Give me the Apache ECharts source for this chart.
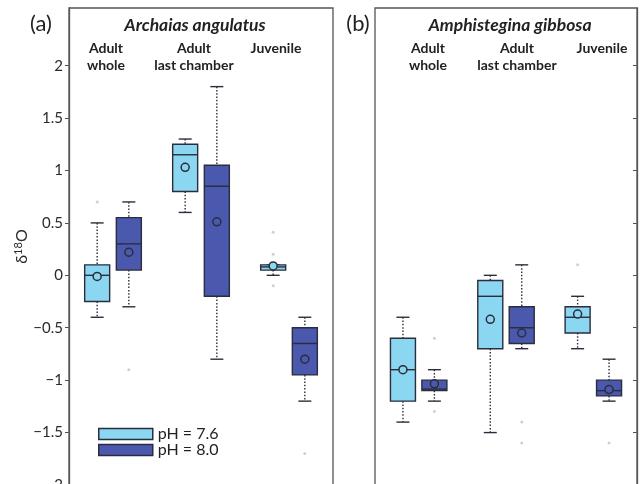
<!DOCTYPE html>
<html>
<head>
<meta charset="utf-8">
<script src="https://cdn.jsdelivr.net/npm/echarts@6/dist/echarts.min.js"></script>
<style>
  html, body { margin: 0; padding: 0; background: #fff; }
  #chart { width: 640px; height: 484px; }
</style>
</head>
<body>
<div id="chart"></div>
<script>
// groups along the x axis (same in both panels)
const groups = ['Adult\nwhole', 'Adult\nlast chamber', 'Juvenile'];
const yTicks = [-2, -1.5, -1, -0.5, 0, 0.5, 1, 1.5, 2];

// five numbers per box: [lower whisker, Q1, median, Q3, upper whisker]
// (a) Archaias angulatus
const archaias76 = [[-0.40, -0.25, 0.00, 0.10, 0.50], [0.60, 0.80, 1.15, 1.25, 1.30], [0.00, 0.05, 0.08, 0.10, 0.10]];
const archaias80 = [[-0.30, 0.05, 0.30, 0.55, 0.70], [-0.80, -0.20, 0.85, 1.05, 1.80], [-1.20, -0.95, -0.65, -0.50, -0.40]];
const archaiasMean76 = [-0.01, 1.03, 0.09];
const archaiasMean80 = [0.22, 0.51, -0.80];
const archaiasOut76 = [[0, 0.70], [2, 0.41], [2, 0.20], [2, -0.10]];
const archaiasOut80 = [[0, -0.90], [2, -1.70]];

// (b) Amphistegina gibbosa
const amphi76 = [[-1.40, -1.20, -0.90, -0.60, -0.40], [-1.50, -0.70, -0.20, -0.05, 0.00], [-0.70, -0.55, -0.40, -0.30, -0.20]];
const amphi80 = [[-1.20, -1.10, -1.085, -1.00, -0.90], [-0.70, -0.65, -0.50, -0.30, 0.10], [-1.20, -1.15, -1.10, -1.00, -0.80]];
const amphiMean76 = [-0.90, -0.42, -0.37];
const amphiMean80 = [-1.035, -0.55, -1.09];
const amphiOut76 = [[2, 0.10]];
const amphiOut80 = [[0, -0.60], [0, -1.30], [1, -1.40], [1, -1.60], [2, -1.60]];

const LIGHT = '#8bd6f0';
const DARK = '#4a59ae';
const INK = '#2b2d3c';
const FRAME = '#555';
const FONT = 'Lato, "Open Sans", sans-serif';
const SHIFT = 0.18; // side-by-side offset inside a group

let chart = echarts.init(document.getElementById('chart'));

function boxData(stats, means, side) {
    return stats.map((s, i) => [i + 1 + side * SHIFT].concat(s, [means[i]]));
}
function outData(list, side) {
    return list.map(p => [p[0] + 1 + side * SHIFT, p[1]]);
}

// whiskers dotted, caps solid, box + median + mean circle
function renderBox(params, api) {
    let x = api.value(0);
    let lo = api.coord([x, api.value(1)]),
        q1 = api.coord([x, api.value(2)]),
        md = api.coord([x, api.value(3)]),
        q3 = api.coord([x, api.value(4)]),
        hi = api.coord([x, api.value(5)]),
        mn = api.coord([x, api.value(6)]);
    let cx = lo[0], hw = 12.5, cw = 6.5;
    let fill = api.visual('color');
    let dotted = { stroke: INK, lineWidth: 1.4, lineDash: [1.5, 1.8] };
    let solid = { stroke: INK, lineWidth: 1.4 };
    return {
        type: 'group',
        children: [
            { type: 'line', shape: { x1: cx, y1: hi[1], x2: cx, y2: q3[1] }, style: dotted },
            { type: 'line', shape: { x1: cx, y1: q1[1], x2: cx, y2: lo[1] }, style: dotted },
            { type: 'line', shape: { x1: cx - cw, y1: hi[1], x2: cx + cw, y2: hi[1] }, style: solid },
            { type: 'line', shape: { x1: cx - cw, y1: lo[1], x2: cx + cw, y2: lo[1] }, style: solid },
            { type: 'rect', shape: { x: cx - hw, y: q3[1], width: hw * 2, height: q1[1] - q3[1] },
              style: { fill: fill, stroke: INK, lineWidth: 1.4 } },
            { type: 'line', shape: { x1: cx - hw, y1: md[1], x2: cx + hw, y2: md[1] }, style: solid },
            { type: 'circle', shape: { cx: cx, cy: mn[1], r: 4 },
              style: { fill: fill, stroke: INK, lineWidth: 1.5 } }
        ]
    };
}

function boxSeries(name, color, idx, stats, means, side) {
    return {
        name: name,
        type: 'custom',
        xAxisIndex: idx,
        yAxisIndex: idx,
        itemStyle: { color: color },
        renderItem: renderBox,
        encode: { x: 0, y: [1, 2, 3, 4, 5, 6] },
        data: boxData(stats, means, side),
        z: 3
    };
}
function outSeries(idx, list, side) {
    return {
        type: 'scatter',
        xAxisIndex: idx,
        yAxisIndex: idx,
        symbolSize: 3,
        itemStyle: { color: '#c4c4c4' },
        data: outData(list, side),
        z: 2,
        silent: true
    };
}

function yLabel(v) {
    return v < 0 ? '\u2212' + Math.abs(v) : String(v);
}

// header texts
let texts = [];
function addText(x, y, text, font, lh) {
    texts.push({
        type: 'text', x: x, y: y,
        style: { text: text, font: font, fill: '#222', align: 'center', verticalAlign: 'top', lineHeight: lh || 17 }
    });
}
addText(41, 12, '(a)', '22px ' + FONT, 24);
addText(358, 12, '(b)', '22px ' + FONT, 24);
addText(195, 15, 'Archaias angulatus', 'italic bold 17.5px ' + FONT, 20);
addText(510, 15, 'Amphistegina gibbosa', 'italic bold 17.5px ' + FONT, 20);
let headCenters = [[106, 194, 276], [428, 517, 602]];
headCenters.forEach(row => {
    row.forEach((cx, i) => addText(cx, 40, groups[i], 'bold 14px ' + FONT, 17));
});

// frame bottom edge falls just below the picture, as in the figure
let gridBase = { top: 8, height: 477, show: true, borderColor: FRAME, borderWidth: 1.3, outerBoundsMode: 'none' };

let option = {
    animation: false,
    textStyle: { fontFamily: FONT },
    grid: [
        Object.assign({ left: 69, width: 264 }, gridBase),
        Object.assign({ left: 375, width: 262 }, gridBase)
    ],
    xAxis: [0, 1].map(i => ({
        type: 'value', gridIndex: i, min: 0.5, max: 3.5, show: false
    })),
    yAxis: [
        {
            type: 'value', gridIndex: 0, min: -2, max: 2.55, position: 'left',
            splitLine: { show: false },
            axisLine: { show: true, onZero: false, lineStyle: { color: FRAME, width: 1.3 } },
            axisTick: { show: true, length: 4, customValues: yTicks, lineStyle: { color: FRAME } },
            axisLabel: { customValues: yTicks, formatter: yLabel, color: '#2a2a2a', fontSize: 15, margin: 6, fontFamily: FONT },
            name: '{d|δ}{s|18}{d|O}',
            nameLocation: 'middle',
            nameRotate: 90,
            nameGap: 38,
            nameTextStyle: {
                rich: {
                    d: { fontSize: 16, color: '#2a2a2a', fontFamily: FONT },
                    s: { fontSize: 11, color: '#2a2a2a', fontFamily: FONT, padding: [0, 0, 7, 0] }
                }
            }
        },
        {
            type: 'value', gridIndex: 1, min: -2, max: 2.55, position: 'right',
            splitLine: { show: false },
            axisLine: { show: true, onZero: false, lineStyle: { color: FRAME, width: 1.3 } },
            axisTick: { show: true, inside: true, length: 4, customValues: yTicks, lineStyle: { color: FRAME } },
            axisLabel: { show: false }
        }
    ],
    legend: {
        data: ['pH = 7.6', 'pH = 8.0'],
        orient: 'vertical',
        left: 98,
        top: 426,
        padding: 0,
        icon: 'rect',
        itemWidth: 54,
        itemHeight: 11,
        itemGap: 0,
        itemStyle: { borderColor: INK, borderWidth: 1.5 },
        textStyle: { fontSize: 16, color: '#222', fontFamily: FONT },
        selectedMode: false
    },
    graphic: texts,
    series: [
        outSeries(0, archaiasOut76, -1),
        outSeries(0, archaiasOut80, 1),
        outSeries(1, amphiOut76, -1),
        outSeries(1, amphiOut80, 1),
        boxSeries('pH = 7.6', LIGHT, 0, archaias76, archaiasMean76, -1),
        boxSeries('pH = 8.0', DARK, 0, archaias80, archaiasMean80, 1),
        boxSeries('pH = 7.6', LIGHT, 1, amphi76, amphiMean76, -1),
        boxSeries('pH = 8.0', DARK, 1, amphi80, amphiMean80, 1)
    ]
};

chart.setOption(option);
</script>
</body>
</html>
